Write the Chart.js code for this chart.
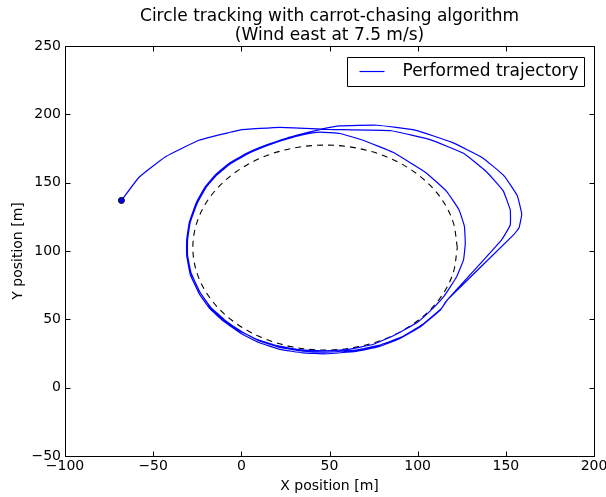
<!DOCTYPE html>
<html><head><meta charset="utf-8">
<script src="https://cdn.jsdelivr.net/npm/chart.js@4/dist/chart.umd.min.js"></script>
<style>html,body{margin:0;padding:0;background:#fff}canvas{display:block}</style>
</head><body>
<canvas id="c" width="606" height="497" style="width:606px;height:497px"></canvas>
<script>
const titleLines = ['Circle tracking with carrot-chasing algorithm', '(Wind east at 7.5 m/s)'];
const xLabel = 'X position [m]';
const yLabel = 'Y position [m]';
const legendLabel = 'Performed trajectory';
const xTicks = [-100, -50, 0, 50, 100, 150, 200];
const yTicks = [-50, 0, 50, 100, 150, 200, 250];

const startX = [-68];
const startY = [137];

const trajX = [
  -68, -58, -43, -24, -1, 22, 48, 85, 107, 126, 139, 148.5, 152.5, 152.5, 147.5,
  116, 113, 102, 90, 78, 65, 48, 35, 22, 10, 0, -10, -18, -24, -29, -31, -31, -29.5, -25.5, -20.5, -14.5, -6.5, 3, 14, 25.5, 34, 45,
  56, 77, 98.5, 119.5, 136.5, 149, 156.5, 159, 157.5, 154.5,
  117, 113.5, 102.5, 90.5, 78, 65, 48, 35, 22, 10, 0.5, -9.5, -17.5, -23.5, -28.5, -30.5, -30.5, -29, -25, -20, -14, -6, 3.5, 14.5, 26, 34.5, 44.6,
  56, 69, 86, 104.5, 116.5, 123.5, 126.5, 127, 126, 122, 115, 107, 99.5, 87, 75, 60, 46.5, 33, 20, 8, -3, -12, -19
];
const trajY = [
  137, 154, 169, 181, 188.5, 190.5, 189, 188, 181.5, 171.5, 158, 144, 130, 119, 108,
  63, 57, 45, 36, 30, 26.5, 24.8, 25.5, 28, 33, 39.5, 48.5, 58, 69, 83, 97, 108, 121, 135.5, 147, 156, 164.5, 171.5, 177.5, 182.5, 185.5, 189,
  191.5, 192, 188.5, 179.5, 168.5, 155, 140.5, 127, 117, 112,
  64.5, 58, 46, 36.8, 31, 27.5, 26, 26.8, 29.4, 34.4, 40.8, 49.6, 59, 70, 84, 97, 108, 121, 135, 146.5, 155.5, 164, 171, 177, 182, 185, 187,
  186, 181, 172.2, 157.5, 143.5, 130, 118, 105.5, 93.5, 81, 67, 56, 47.5, 38.5, 31.8, 27.8, 27, 27.8, 30.8, 35.8, 42.8, 51.2, 60.2
];

const circleX = [122.5, 119.94, 112.45, 100.53, 85.0, 66.91, 47.5, 28.09, 10.0, -5.53, -17.45, -24.94, -27.5,
  -24.94, -17.45, -5.53, 10.0, 28.09, 47.5, 66.91, 85.0, 100.53, 112.45, 119.94, 122.5];
const circleY = [102.5, 121.91, 140.0, 155.53, 167.45, 174.94, 177.5, 174.94, 167.45, 155.53, 140.0, 121.91, 102.5,
  83.09, 65.0, 49.47, 37.55, 30.06, 27.5, 30.06, 37.55, 49.47, 65.0, 83.09, 102.5];

const FONT = "'DejaVu Sans', 'Liberation Sans', sans-serif";
const BLUE = '#0000ff';
const pts = (xs, ys) => xs.map((x, i) => ({x: x, y: ys[i]}));
const fmt = v => String(v).replace('-', '\u2212');

const framePlugin = {
  id: 'frame',
  afterDraw(chart) {
    const ctx = chart.ctx, a = chart.chartArea;
    const xs = chart.scales.x, ys = chart.scales.y;
    const L = Math.round(a.left) + 0.5, R = Math.round(a.right) + 0.5;
    const T = Math.round(a.top) + 0.5, B = Math.round(a.bottom) + 0.5;
    ctx.save();
    ctx.strokeStyle = '#000';
    ctx.lineWidth = 1;
    ctx.beginPath();
    ctx.rect(L, T, R - L, B - T);
    ctx.stroke();
    const tl = 5;
    ctx.beginPath();
    xTicks.forEach(v => {
      const px = Math.round(xs.getPixelForValue(v)) + 0.5;
      ctx.moveTo(px, B); ctx.lineTo(px, B - tl);
      ctx.moveTo(px, T); ctx.lineTo(px, T + tl);
    });
    yTicks.forEach(v => {
      const py = Math.round(ys.getPixelForValue(v)) + 0.5;
      ctx.moveTo(L, py); ctx.lineTo(L + tl, py);
      ctx.moveTo(R, py); ctx.lineTo(R - tl, py);
    });
    ctx.stroke();

    // title
    ctx.fillStyle = '#000';
    ctx.font = '17px ' + FONT;
    ctx.textAlign = 'center';
    ctx.textBaseline = 'middle';
    const cx = (a.left + a.right) / 2;
    ctx.fillText(titleLines[0], cx, 17);
    ctx.fillText(titleLines[1], cx, 36);

    // legend
    const bx = Math.round(a.right) - 10 + 0.5, bl = bx - 237;
    const by = Math.round(a.top) + 11 + 0.5;
    ctx.beginPath();
    ctx.rect(bl, by, bx - bl, 29);
    ctx.fillStyle = '#fff';
    ctx.fill();
    ctx.strokeStyle = '#000';
    ctx.stroke();
    ctx.strokeStyle = BLUE;
    ctx.lineWidth = 1.2;
    ctx.beginPath();
    ctx.moveTo(bl + 12, by + 14);
    ctx.lineTo(bl + 37, by + 14);
    ctx.stroke();
    ctx.fillStyle = '#000';
    ctx.font = '17px ' + FONT;
    ctx.textAlign = 'left';
    ctx.textBaseline = 'middle';
    ctx.fillText(legendLabel, bl + 55, by + 14.5);
    ctx.restore();
  }
};

new Chart(document.getElementById('c'), {
  type: 'scatter',
  data: {
    datasets: [
      { label: 'start', data: pts(startX, startY), showLine: false, pointRadius: 3,
        pointBackgroundColor: BLUE, pointBorderColor: '#000', pointBorderWidth: 1 },
      { label: legendLabel, data: pts(trajX, trajY), showLine: true, borderColor: BLUE,
        borderWidth: 1.2, pointRadius: 0, tension: 0.1, fill: false },
      { label: 'reference', data: pts(circleX, circleY), showLine: true, borderColor: '#000',
        borderWidth: 1.1, borderDash: [6, 5], pointRadius: 0, tension: 0.34, fill: false }
    ]
  },
  options: {
    responsive: false,
    animation: false,
    devicePixelRatio: 1,
    layout: { padding: { top: 46, right: 12, left: 0, bottom: 0 } },
    plugins: { legend: { display: false }, tooltip: { enabled: false }, title: { display: false } },
    scales: {
      x: {
        type: 'linear', min: -100, max: 200,
        afterBuildTicks: s => { s.ticks = xTicks.map(v => ({value: v})); },
        ticks: { callback: v => fmt(v), font: { family: FONT, size: 14 }, color: '#000', padding: 2,
          maxRotation: 0, autoSkip: false },
        grid: { display: false, drawTicks: false },
        border: { display: false },
        title: { display: true, text: xLabel, color: '#000', font: { family: FONT, size: 14 },
          padding: { top: 0, bottom: 2 } },
        afterFit: s => { s.height = 41; s.paddingLeft = 0; s.paddingRight = 0; }
      },
      y: {
        type: 'linear', min: -50, max: 250,
        afterBuildTicks: s => { s.ticks = yTicks.map(v => ({value: v})); },
        ticks: { callback: v => fmt(v), font: { family: FONT, size: 14 }, color: '#000', padding: 4,
          autoSkip: false },
        grid: { display: false, drawTicks: false },
        border: { display: false },
        title: { display: true, text: yLabel, color: '#000', font: { family: FONT, size: 14 },
          padding: { top: 10, bottom: 0 } },
        afterFit: s => { s.width = 65; s.paddingTop = 0; s.paddingBottom = 0; }
      }
    }
  },
  plugins: [framePlugin]
});
</script>
</body></html>
